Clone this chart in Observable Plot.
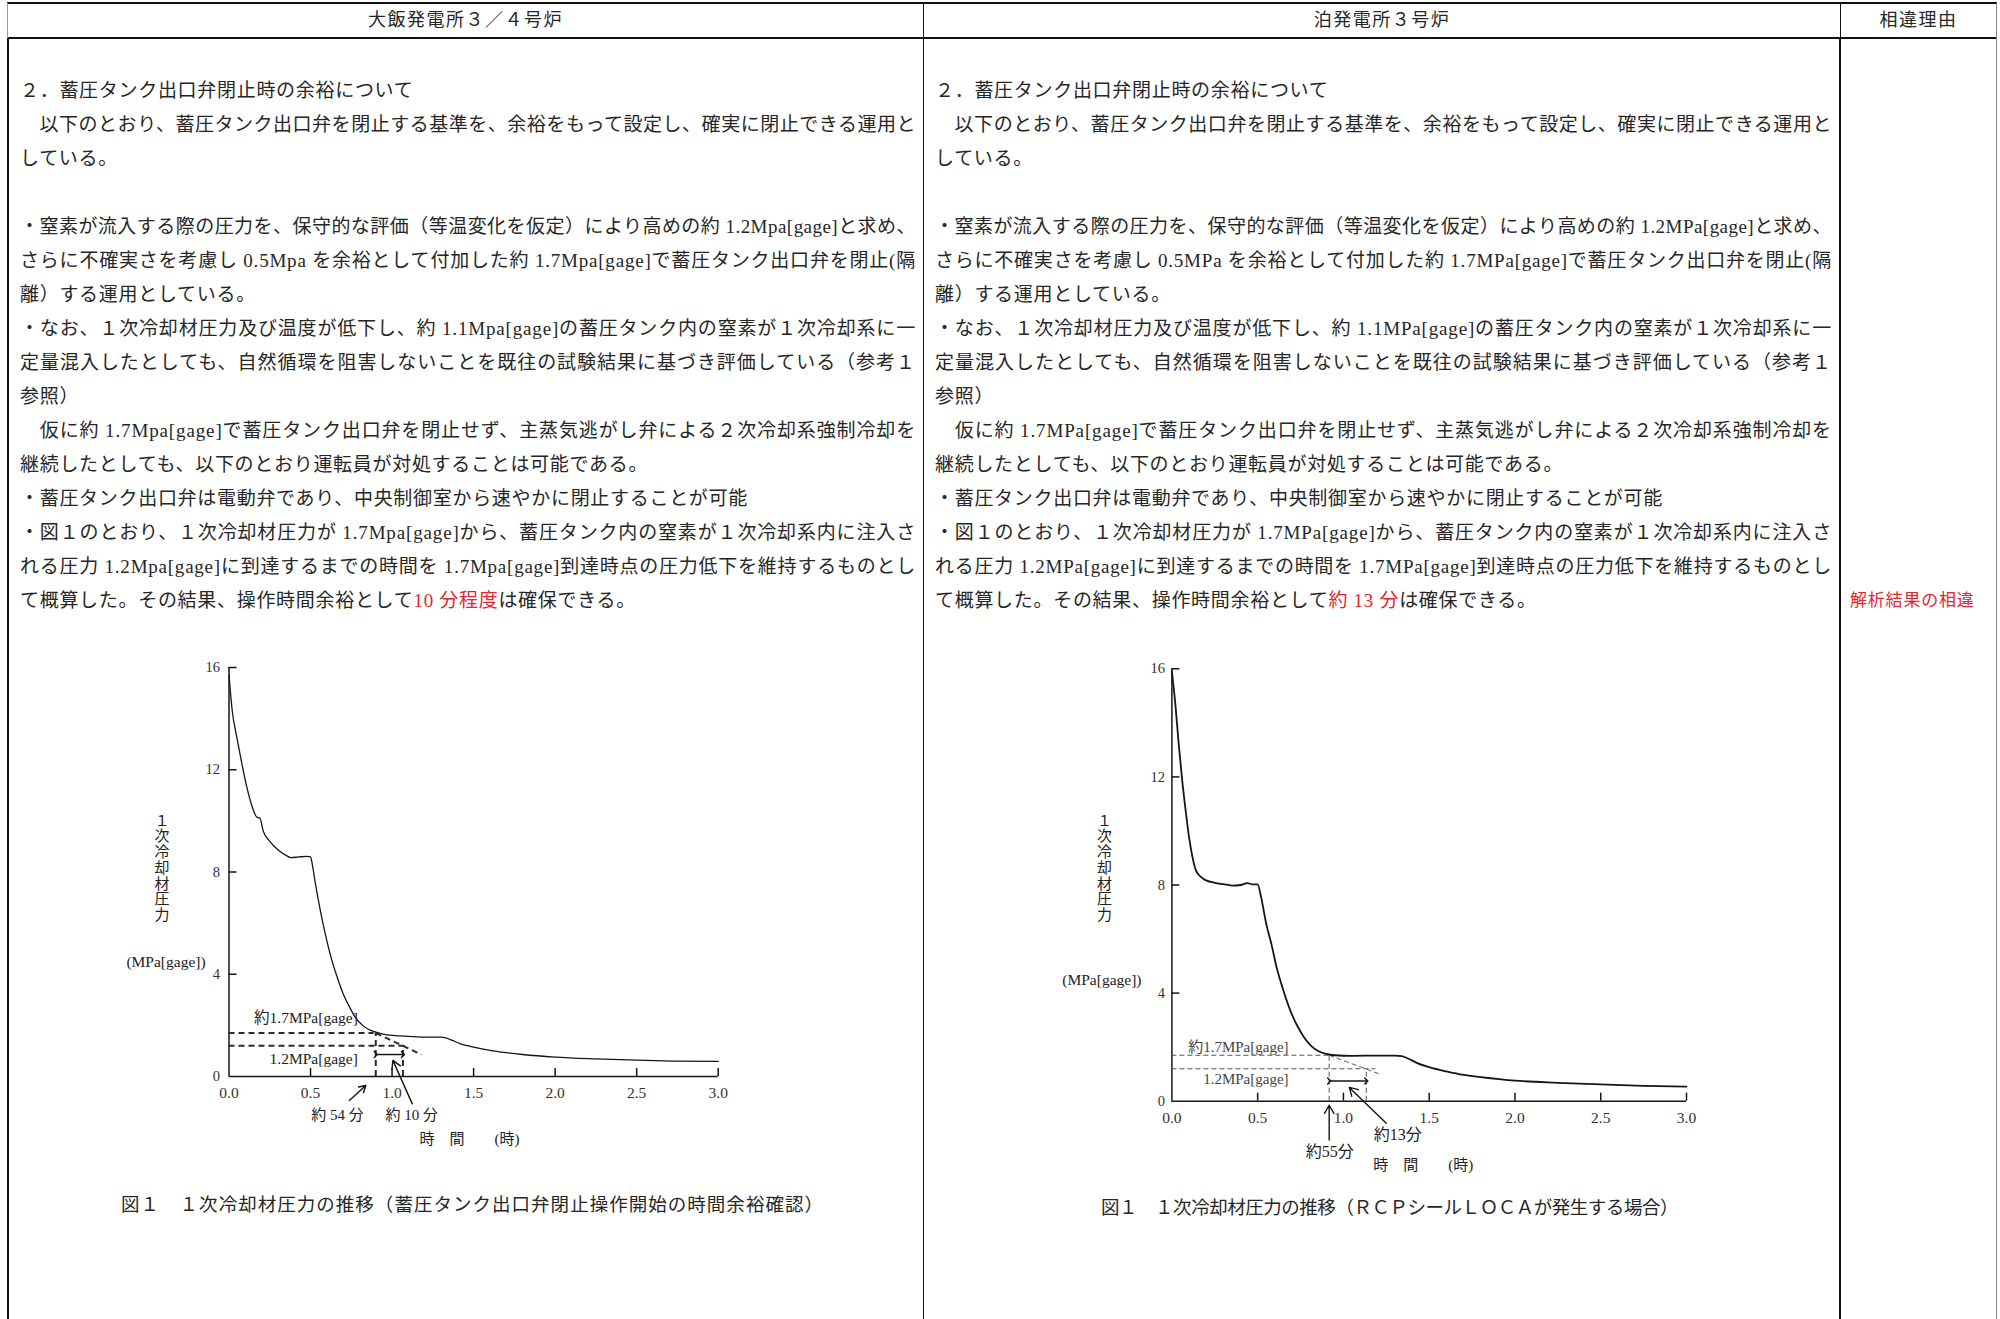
<!DOCTYPE html>
<html lang="ja">
<head>
<meta charset="utf-8">
<script src="https://cdn.jsdelivr.net/npm/d3@7"></script>
<script src="https://cdn.jsdelivr.net/npm/@observablehq/plot@0.6"></script>
<style>
html,body{margin:0;padding:0;background:#fff;}
#page{position:relative;width:2000px;height:1319px;overflow:hidden;background:#fff;
  font-family:"Liberation Serif","Noto Sans CJK JP",serif;color:#262626;}
.ln{position:absolute;background:#111;}
.t{position:absolute;white-space:nowrap;font-size:19px;line-height:34px;height:34px;letter-spacing:0.7px;}
.red{color:#e5242c;}
.hdr{position:absolute;top:3px;height:35px;line-height:35px;text-align:center;font-size:18px;letter-spacing:1.5px;white-space:nowrap;}
.cap{position:absolute;white-space:nowrap;font-size:18.5px;line-height:30px;height:30px;}
.chart{position:absolute;}
</style>
</head>
<body>
<div id="page"></div>
<script>
// ---------------- data ----------------
const xTicks = [0, 0.5, 1, 1.5, 2, 2.5, 3];
const xTickLabels = ["0.0", "0.5", "1.0", "1.5", "2.0", "2.5", "3.0"];
const yTicks = [0, 4, 8, 12, 16];
const yTickLabels = ["0", "4", "8", "12", "16"];

// 大飯発電所3/4号炉: 1次冷却材圧力 (MPa[gage]) vs 時間 (h)
const ohiTime = [0.00,0.02,0.05,0.08,0.11,0.14,0.17,0.19,0.21,0.25,0.30,0.35,0.38,0.43,0.48,0.50,0.51,0.53,0.56,0.59,0.62,0.66,0.70,0.74,0.78,0.82,0.86,0.90,0.96,1.02,1.10,1.20,1.30,1.33,1.37,1.42,1.50,1.60,1.70,1.80,2.00,2.25,2.50,2.75,3.00];
const ohiPressure = [15.7,14.3,13.2,12.2,11.3,10.6,10.15,10.1,9.6,9.2,8.87,8.65,8.56,8.59,8.61,8.59,8.33,7.54,6.5,5.59,4.8,3.95,3.24,2.71,2.26,2.0,1.83,1.74,1.64,1.6,1.57,1.54,1.54,1.51,1.41,1.28,1.15,1.02,0.93,0.86,0.76,0.69,0.64,0.60,0.59];

// 泊発電所3号炉
const tomariTime = [0.00,0.02,0.04,0.06,0.08,0.10,0.12,0.14,0.17,0.20,0.25,0.30,0.35,0.40,0.44,0.47,0.50,0.52,0.55,0.58,0.61,0.65,0.69,0.73,0.77,0.81,0.85,0.90,0.95,1.05,1.20,1.30,1.34,1.38,1.43,1.50,1.60,1.70,1.80,2.00,2.25,2.50,2.75,3.00];
const tomariPressure = [15.9,14.7,13.2,11.87,10.76,9.77,9.03,8.54,8.29,8.17,8.08,8.03,7.98,8.0,8.07,8.02,8.02,7.55,6.56,5.82,4.96,4.1,3.36,2.8,2.37,2.06,1.87,1.75,1.70,1.68,1.69,1.69,1.67,1.57,1.41,1.26,1.1,0.97,0.89,0.76,0.68,0.62,0.57,0.54];

// thresholds and times
const levels = [1.7, 1.2];
const levelLabels = ["約1.7MPa[gage]", "1.2MPa[gage]"];
const ohiStartMin = 54, ohiMarginMin = 10;
const tomariStartMin = 55, tomariMarginMin = 13;
const ohiTimeLabels = ["約 54 分", "約 10 分"];
const tomariTimeLabels = ["約55分", "約13分"];

// ---------------- document text ----------------
const headers = ["大飯発電所３／４号炉", "泊発電所３号炉", "相違理由"];
const leftLines = [
 [0, "２．蓄圧タンク出口弁閉止時の余裕について", 0],
 [1, "　以下のとおり、蓄圧タンク出口弁を閉止する基準を、余裕をもって設定し、確実に閉止できる運用と", 1],
 [2, "している。", 0],
 [4, "・窒素が流入する際の圧力を、保守的な評価（等温変化を仮定）により高めの約 1.2Mpa[gage]と求め、", 1],
 [5, "さらに不確実さを考慮し 0.5Mpa を余裕として付加した約 1.7Mpa[gage]で蓄圧タンク出口弁を閉止(隔", 1],
 [6, "離）する運用としている。", 0],
 [7, "・なお、１次冷却材圧力及び温度が低下し、約 1.1Mpa[gage]の蓄圧タンク内の窒素が１次冷却系に一", 1],
 [8, "定量混入したとしても、自然循環を阻害しないことを既往の試験結果に基づき評価している（参考１", 1],
 [9, "参照）", 0],
 [10, "　仮に約 1.7Mpa[gage]で蓄圧タンク出口弁を閉止せず、主蒸気逃がし弁による２次冷却系強制冷却を", 1],
 [11, "継続したとしても、以下のとおり運転員が対処することは可能である。", 0],
 [12, "・蓄圧タンク出口弁は電動弁であり、中央制御室から速やかに閉止することが可能", 0],
 [13, "・図１のとおり、１次冷却材圧力が 1.7Mpa[gage]から、蓄圧タンク内の窒素が１次冷却系内に注入さ", 1],
 [14, "れる圧力 1.2Mpa[gage]に到達するまでの時間を 1.7Mpa[gage]到達時点の圧力低下を維持するものとし", 1],
 [15, "て概算した。その結果、操作時間余裕として{10 分程度}は確保できる。", 0]
];
const midLines = [
 [0, "２．蓄圧タンク出口弁閉止時の余裕について", 0],
 [1, "　以下のとおり、蓄圧タンク出口弁を閉止する基準を、余裕をもって設定し、確実に閉止できる運用と", 1],
 [2, "している。", 0],
 [4, "・窒素が流入する際の圧力を、保守的な評価（等温変化を仮定）により高めの約 1.2MPa[gage]と求め、", 1],
 [5, "さらに不確実さを考慮し 0.5MPa を余裕として付加した約 1.7MPa[gage]で蓄圧タンク出口弁を閉止(隔", 1],
 [6, "離）する運用としている。", 0],
 [7, "・なお、１次冷却材圧力及び温度が低下し、約 1.1MPa[gage]の蓄圧タンク内の窒素が１次冷却系に一", 1],
 [8, "定量混入したとしても、自然循環を阻害しないことを既往の試験結果に基づき評価している（参考１", 1],
 [9, "参照）", 0],
 [10, "　仮に約 1.7MPa[gage]で蓄圧タンク出口弁を閉止せず、主蒸気逃がし弁による２次冷却系強制冷却を", 1],
 [11, "継続したとしても、以下のとおり運転員が対処することは可能である。", 0],
 [12, "・蓄圧タンク出口弁は電動弁であり、中央制御室から速やかに閉止することが可能", 0],
 [13, "・図１のとおり、１次冷却材圧力が 1.7MPa[gage]から、蓄圧タンク内の窒素が１次冷却系内に注入さ", 1],
 [14, "れる圧力 1.2MPa[gage]に到達するまでの時間を 1.7MPa[gage]到達時点の圧力低下を維持するものとし", 1],
 [15, "て概算した。その結果、操作時間余裕として{約 13 分}は確保できる。", 0]
];
const reasonText = "解析結果の相違";
const captions = ["図１　１次冷却材圧力の推移（蓄圧タンク出口弁閉止操作開始の時間余裕確認）",
                  "図１　１次冷却材圧力の推移（ＲＣＰシールＬＯＣＡが発生する場合）"];
const yLabel = "１\n次\n冷\n却\n材\n圧\n力";
const yUnit = "(MPa[gage])";
const xLabel = "時　間　　(時)";

// ---------------- layout ----------------
const page = document.getElementById("page");
function box(cls, css, html) {
  const d = document.createElement("div");
  d.className = cls;
  Object.assign(d.style, css);
  if (html !== undefined) d.innerHTML = html;
  page.appendChild(d);
  return d;
}
// table rules
box("ln", {left:"7px", top:"2px", width:"1990px", height:"2px"});
box("ln", {left:"7px", top:"37px", width:"1990px", height:"2px"});
box("ln", {left:"7px", top:"3px", width:"1px", height:"35px", background:"#999"});
box("ln", {left:"7px", top:"38px", width:"2px", height:"1290px"});
box("ln", {left:"923px", top:"3px", width:"1px", height:"1320px"});
box("ln", {left:"1840px", top:"3px", width:"1px", height:"35px"});
box("ln", {left:"1839px", top:"38px", width:"2px", height:"1290px"});
box("ln", {left:"1996px", top:"3px", width:"1px", height:"1320px", background:"#888"});

// headers
box("hdr", {left:"8px", width:"915px"}, headers[0]);
box("hdr", {left:"924px", width:"916px"}, headers[1]);
box("hdr", {left:"1841px", width:"155px"}, headers[2]);

function markup(s) {
  return s.replace(/\{([^}]*)\}/g, '<span class="red">$1</span>');
}
const fits = [];
function writeLines(lines, x, w) {
  for (const [row, s, just] of lines) {
    const d = box("t", {left: x + "px", top: (74 + row * 34) + "px"}, markup(s));
    if (just) fits.push([d, w]);
  }
}
writeLines(leftLines, 20, 896);
writeLines(midLines, 935, 897);
box("t red", {left:"1850px", top:(74 + 15 * 34) + "px", fontSize:"17px", letterSpacing:"0.8px"}, reasonText);

const c1 = box("cap", {left:"121px", top:"1190px"}, captions[0]);
const c2 = box("cap", {left:"1101px", top:"1193px"}, captions[1]);
fits.push([c1, 703], [c2, 577]);

function doFit() {
  for (const [el, target] of fits) {
    el.style.letterSpacing = "0px";
    const w = el.getBoundingClientRect().width;
    const n = Array.from(el.textContent).length;
    el.style.letterSpacing = ((target - w) / n) + "px";
  }
}
doFit();
if (document.fonts && document.fonts.ready) document.fonts.ready.then(doFit);

// ---------------- charts ----------------
const FONT = '"Liberation Serif","Noto Sans CJK JP",serif';

function chart(c) {
  const plotW = c.W - c.mL - c.mR, plotH = c.H - c.mT - c.mB;
  const tickY = 8 * 16 / plotH;   // inward tick length in data units
  const tickX = 8 * 3 / plotW;
  const pts = c.time.map((t, i) => ({t, p: c.pressure[i]}));
  const s = c.startMin / 60, e = (c.startMin + c.marginMin) / 60;
  const dash = {stroke: c.dashColor, strokeWidth: c.dashW, strokeDasharray: c.dashArr};
  const ink = "#151515";
  const svg = Plot.plot({
    width: c.W, height: c.H,
    marginLeft: c.mL, marginRight: c.mR, marginTop: c.mT, marginBottom: c.mB,
    x: {domain: [0, 3], axis: null},
    y: {domain: [0, 16], axis: null},
    style: {fontFamily: FONT, fontSize: "15px", background: "transparent", color: ink, overflow: "visible"},
    marks: [
      Plot.ruleX([0], {y1: 0, y2: 16, stroke: ink, strokeWidth: 1.5}),
      Plot.ruleY([0], {x1: 0, x2: 3, stroke: ink, strokeWidth: 1.5}),
      Plot.ruleX(xTicks.slice(1), {x: d => d, y1: 0, y2: tickY, stroke: ink, strokeWidth: 1.5}),
      Plot.ruleY(yTicks.slice(1), {y: d => d, x1: 0, x2: tickX, stroke: ink, strokeWidth: 1.5}),
      Plot.text(xTicks, {x: d => d, y: 0, text: (d, i) => xTickLabels[i], dy: 17, fontSize: 15.5, fill: "#333", ariaLabel: "xticklabel"}),
      Plot.text(yTicks, {x: 0, y: d => d, text: (d, i) => yTickLabels[i], textAnchor: "end", dx: c.yTickDx, fontSize: 14.5, fill: "#333"}),
      // threshold dashes
      Plot.ruleY(levels, {y: d => d, x1: 0, x2: (d, i) => c.levelEnds[i], ...dash}),
      Plot.ruleX([s, e], {x: d => d, y1: 0, y2: (d, i) => levels[i], ...dash}),
      Plot.link([0], {x1: s, y1: levels[0], x2: c.tan[0], y2: c.tan[1], ...dash}),
      // margin double arrow
      Plot.link([0], {x1: s, x2: e, y1: c.arrY, y2: c.arrY, stroke: ink, strokeWidth: 1.5, markerStart: "arrow", markerEnd: "arrow"}),
      // pointer arrows
      Plot.arrow(c.pointers, {x1: "x1", y1: "y1", x2: "x2", y2: "y2", stroke: ink, strokeWidth: 1.4, headLength: 10}),
      // curve
      Plot.line(pts, {x: "t", y: "p", stroke: ink, strokeWidth: c.curveW, curve: "monotone-x"}),
      // threshold labels
      Plot.text([levelLabels[0]], {x: c.lblX, y: levels[0], text: d => d, textAnchor: "end", dy: c.lblDy[0], fontSize: c.lblSize, fill: c.lblColor}),
      Plot.text([levelLabels[1]], {x: c.lblX, y: levels[1], text: d => d, textAnchor: "end", dy: c.lblDy[1], fontSize: c.lblSize, fill: c.lblColor}),
      // time labels
      Plot.text([c.timeLabels[0]], {x: c.tlX[0], y: 0, dy: c.tlDy[0], text: d => d, fontSize: c.timeSize, fill: "#222"}),
      Plot.text([c.timeLabels[1]], {x: c.tlX[1], y: 0, dy: c.tlDy[1], text: d => d, fontSize: c.timeSize, fill: "#222"}),
      Plot.text([xLabel], {x: c.xLabelX, y: 0, dy: c.xLabelDy, text: d => d, fontSize: 15, fill: "#222"}),
      // y label
      Plot.text([yLabel], {frameAnchor: "top-left", textAnchor: "middle", text: d => d, dx: c.yLab[0], dy: c.yLab[1], lineAnchor: "top", lineHeight: 1.05, fontSize: 15, fill: "#222"}),
      Plot.text([yUnit], {frameAnchor: "top-left", textAnchor: "middle", text: d => d, dx: c.yUnit[0], dy: c.yUnit[1], fontSize: 15.5, fill: "#222"})
    ]
  });
  d3.select(svg).selectAll('g[aria-label="xticklabel"] text').style("letter-spacing", "1.5px");
  return svg;
}

const ohi = chart({
  time: ohiTime, pressure: ohiPressure, startMin: ohiStartMin, marginMin: ohiMarginMin,
  W: 660, H: 540, mL: 128.5, mR: 42.3, mT: 27, mB: 104,
  curveW: 1.3, dashColor: "#2a2a2a", dashW: 2, dashArr: "6,4",
  levelEnds: [0.89, 1.08], tan: [1.18, 0.86], arrY: 0.86,
  pointers: [{x1: 0.738, y1: -0.94, x2: 0.839, y2: -0.35}, {x1: 1.124, y1: -1.07, x2: 1.005, y2: 0.63}],
  lblX: 0.79, lblDy: [-15.5, 13], lblSize: 15.5, lblColor: "#222",
  timeLabels: ohiTimeLabels, tlX: [0.665, 1.12], tlDy: [39, 39], timeSize: 15,
  xLabelX: 1.475, xLabelDy: 63, yTickDx: -9,
  yLab: [-67, 147], yUnit: [-63, 288]
});
ohi.classList.add("chart");
Object.assign(ohi.style, {left: "100px", top: "640px"});
page.appendChild(ohi);

const tomari = chart({
  time: tomariTime, pressure: tomariPressure, startMin: tomariStartMin, marginMin: tomariMarginMin,
  W: 700, H: 560, mL: 131.4, mR: 54, mT: 28.3, mB: 99.3,
  curveW: 1.8, dashColor: "#555", dashW: 1, dashArr: "5,3",
  levelEnds: [0.915, 1.19], tan: [1.205, 1.02], arrY: 0.75,
  pointers: [{x1: 0.917, y1: -1.44, x2: 0.917, y2: -0.15}, {x1: 1.25, y1: -0.82, x2: 1.034, y2: 0.51}],
  lblX: 0.68, lblDy: [-8, 10], lblSize: 15, lblColor: "#444",
  timeLabels: tomariTimeLabels, tlX: [0.92, 1.316], tlDy: [51, 34], timeSize: 16,
  xLabelX: 1.465, xLabelDy: 64, yTickDx: -7,
  yLab: [-67.4, 145.7], yUnit: [-70, 304.7]
});
tomari.classList.add("chart");
Object.assign(tomari.style, {left: "1040px", top: "640px"});
page.appendChild(tomari);
</script>
</body>
</html>
